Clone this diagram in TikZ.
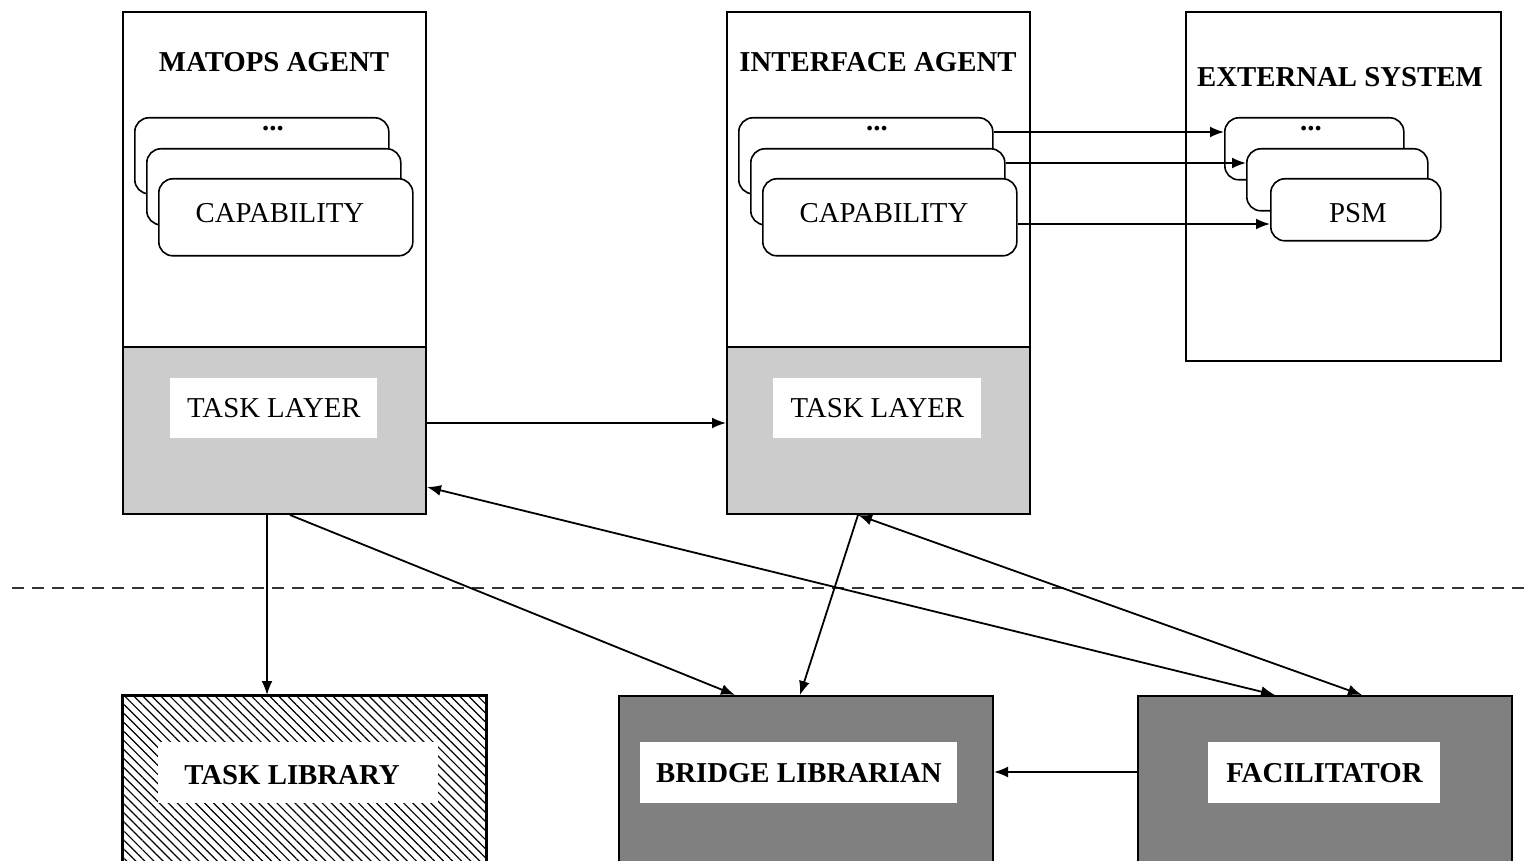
\documentclass[tikz,border=0pt]{standalone}
\usepackage{fontspec}
\setmainfont{Liberation Serif}
\usetikzlibrary{arrows.meta,patterns.meta,calc}

\begin{document}
\begin{tikzpicture}[x=0.5pt,y=-0.5pt,
  frame/.style={draw, line width=1pt, inner sep=0pt, anchor=north west},
  rlab/.style={font=\fontsize{14.4}{17}\selectfont, inner sep=0pt},
  blab/.style={font=\fontsize{14.4}{17}\selectfont\bfseries, inner sep=0pt},
  wlabel/.style={fill=white, inner sep=0pt, anchor=north west},
  card/.style={draw, fill=white, line width=0.8pt, rounded corners=7pt, inner sep=0pt, anchor=north west},
  tip/.tip={Latex[length=7pt,width=5.5pt]},
  link/.style={line width=0.9pt, -tip},
  both/.style={line width=0.9pt, tip-tip},
  sep/.style={line width=0.9pt, draw=black!80, dash pattern=on 6pt off 4pt}
]
\useasboundingbox (0,0) rectangle (1528,861);
\clip (0,0) rectangle (1528,861);
\fill[white] (0,0) rectangle (1528,861);

% ---------- MATOPS agent ----------
\node[frame, minimum width=151.5pt, minimum height=251pt] (magent) at (122,11) {};
\node[frame, fill=black!20, minimum width=151.5pt, minimum height=83.5pt] (mtask) at (122,346) {};
\node[wlabel, minimum width=103.5pt, minimum height=30pt] (mtasklab) at (170,378) {};
\node[rlab] (mtasktxt) at (mtasklab.center) {TASK LAYER};
\node[blab] (mtitle) at (274,62) {MATOPS AGENT};
\node[card, minimum width=127pt, minimum height=38pt] (mback) at (134,117) {};
\node[card, minimum width=127pt, minimum height=38pt] (mmid) at (146,148) {};
\node[card, minimum width=127pt, minimum height=38.5pt] (mfront) at (158,178) {};
\node[rlab] (mdots) at (273,129) {\bfseries...};
\node[rlab] (mcap) at (280,213) {CAPABILITY};

% ---------- Interface agent ----------
\node[frame, minimum width=151.5pt, minimum height=251pt] (iagent) at (726,11) {};
\node[frame, fill=black!20, minimum width=151.5pt, minimum height=83.5pt] (itask) at (726,346) {};
\node[wlabel, minimum width=104pt, minimum height=30pt] (itasklab) at (773,378) {};
\node[rlab] (itasktxt) at (itasklab.center) {TASK LAYER};
\node[blab] (ititle) at (878,62) {INTERFACE AGENT};
\node[card, minimum width=127pt, minimum height=38pt] (iback) at (738,117) {};
\node[card, minimum width=127pt, minimum height=38pt] (imid) at (750,148) {};
\node[card, minimum width=127pt, minimum height=38.5pt] (ifront) at (762,178) {};
\node[rlab] (idots) at (877,129) {\bfseries...};
\node[rlab] (icap) at (884,213) {CAPABILITY};

% ---------- External system ----------
\node[frame, minimum width=157.5pt, minimum height=174.5pt] (ext) at (1185,11) {};
\node[blab] (etitle) at (1340,77) {EXTERNAL SYSTEM};
\node[card, minimum width=89.5pt, minimum height=31pt] (pback) at (1224,117) {};
\node[card, minimum width=90.5pt, minimum height=31pt] (pmid) at (1246,148) {};
\node[card, minimum width=85pt, minimum height=31pt] (pfront) at (1270,178) {};
\node[rlab] (pdots) at (1311,129) {\bfseries...};
\node[rlab] (psm) at (1358,213) {PSM};

% ---------- separator ----------
\coordinate (sepL) at (12,588);
\coordinate (sepR) at (1528,588);
\draw[sep] (sepL) -- (sepR);

% ---------- bottom row ----------
\node[frame, fill=white, minimum width=181.5pt, minimum height=90pt] (tlib) at (122,695) {};
\fill[pattern={Lines[angle=-45,distance=3.2pt,line width=0.6pt]}] (tlib.north west) rectangle (tlib.south east);
\draw[line width=0.9pt] (tlib.north west) rectangle (tlib.south east);
\node[wlabel, minimum width=140pt, minimum height=30.5pt] (tliblab) at (158,742) {};
\node[blab] (tlibtxt) at (292,775) {TASK LIBRARY};

\node[frame, fill=black!50, minimum width=187pt, minimum height=90pt] (bridge) at (618,695) {};
\node[wlabel, minimum width=158.5pt, minimum height=30.5pt] (bridgelab) at (640,742) {};
\node[blab] (bridgetxt) at (bridgelab.center) {BRIDGE LIBRARIAN};

\node[frame, fill=black!50, minimum width=187pt, minimum height=90pt] (facil) at (1137,695) {};
\node[wlabel, minimum width=116pt, minimum height=30.5pt] (facillab) at (1208,742) {};
\node[blab] (faciltxt) at (facillab.center) {FACILITATOR};

% ---------- connectors ----------
\draw[link] ($(mtask.east)+(0,-7.5)$) -- ($(itask.west)+(0,-7.5)$);
\draw[link] ($(magent.south west)+(145,0)$) -- ($(tlib.north west)+(145,0)$);
\draw[link] ($(magent.south west)+(168,0)$) -- ($(bridge.north west)+(117,0)$);
\draw[both] ($(magent.south east)+(0,-28)$) -- ($(facil.north west)+(138,0)$);
\draw[link] ($(iagent.south west)+(132,0)$) -- ($(bridge.north west)+(182,0)$);
\draw[both] ($(iagent.south west)+(132,0)$) -- ($(facil.north west)+(225,0)$);
\draw[link] ($(facil.north west)+(0,77)$) -- ($(bridge.north east)+(0,77)$);

\draw[link] ($(iback.north east)+(0,15)$) -- ($(pback.north west)+(0,15)$);
\draw[link] ($(imid.north east)+(0,15)$) -- ($(pmid.north west)+(0,15)$);
\draw[link] ($(ifront.north east)+(0,46)$) -- ($(pfront.north west)+(0,46)$);
\end{tikzpicture}
\end{document}
